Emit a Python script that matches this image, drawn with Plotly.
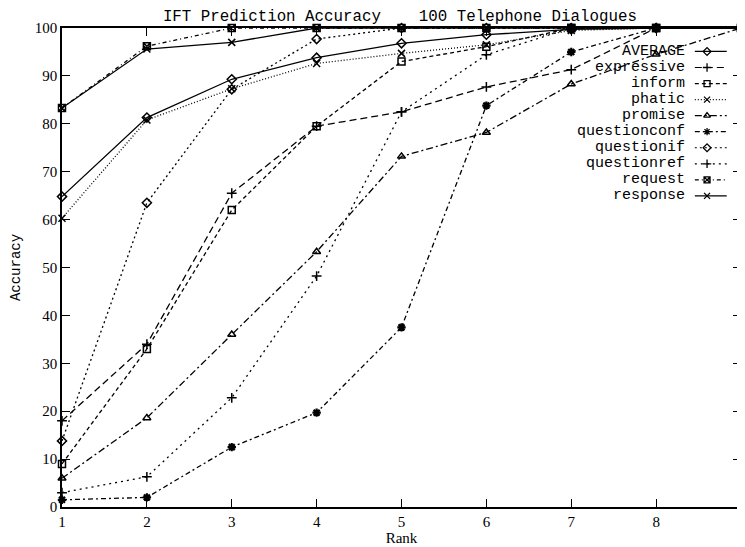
import plotly.graph_objects as go

ranks = [1, 2, 3, 4, 5, 6, 7, 8, 9]
series_names = ["AVERAGE", "expressive", "inform", "phatic", "promise",
                "questionconf", "questionif", "questionref", "request", "response"]
average = [64.8, 81.3, 89.3, 93.8, 96.8, 98.6, 99.7, 100, 100]
expressive = [18, 34, 65.5, 79.5, 82.5, 87.7, 91.3, 100, 100]
inform = [9, 33, 62, 79.5, 93, 96.1, 100, 100, 100]
phatic = [60.3, 80.8, 87.3, 92.6, 94.7, 96.5, 99.5, 100, 100]
promise = [6, 18.6, 36, 53.3, 73.2, 78.2, 88.3, 94.5, 100]
questionconf = [1.5, 2, 12.5, 19.7, 37.5, 83.8, 95, 100, 100]
questionif = [13.8, 63.5, 87.2, 97.7, 100, 100, 100, 100, 100]
questionref = [3, 6.3, 22.8, 48.2, 82.5, 94.4, 100, 100, 100]
request = [83.3, 96.2, 100, 100, 100, 100, 100, 100, 100]
response = [83.3, 95.6, 97, 100, 100, 100, 100, 100, 100]
x_tick_labels = ["1", "2", "3", "4", "5", "6", "7", "8", "9"]
y_tick_values = [0, 10, 20, 30, 40, 50, 60, 70, 80, 90, 100]

values = [average, expressive, inform, phatic, promise,
          questionconf, questionif, questionref, request, response]
# (dash, symbol, marker outline width)
styles = [
    ("solid", "diamond-open", 1.5),
    ("7px,4px", "cross-thin-open", 1.5),
    ("4px,3px", "square-open", 1.5),
    ("1px,2px", "x-thin-open", 1.5),
    ("7px,3px,2px,3px", "triangle-up-open", 1.5),
    ("5px,3px,2px,3px", "asterisk-open", 2.2),
    ("2px,3px", "diamond-open", 1.5),
    ("2px,4px", "cross-thin-open", 1.5),
    ("4px,3px,1px,3px", "square-x-open", 1.5),
    ("solid", "x-thin-open", 1.5),
]

MONO = "Liberation Mono"
SERIF = "Liberation Serif"

fig = go.Figure()
for name, vals, (dash, sym, mw) in zip(series_names, values, styles):
    fig.add_trace(go.Scatter(
        x=ranks, y=vals, name=name, mode="lines+markers",
        line=dict(color="black", width=1.3, dash=dash),
        marker=dict(symbol=sym, size=7, color="black",
                    line=dict(color="black", width=mw)),
        cliponaxis=False, showlegend=False,
    ))

# custom gnuplot-style key (text right-aligned, sample on the right)
key_top = 0.951
key_step = 0.0335
text_right = 0.9205
line_x0, line_x1, mark_x = 0.932, 0.979, 0.950
key_y = [key_top - i * key_step for i in range(len(series_names))]
for name, ky, (dash, sym, mw) in zip(series_names, key_y, styles):
    fig.add_annotation(x=text_right, y=ky, xref="paper", yref="paper",
                       text=name, showarrow=False, xanchor="right", yanchor="middle",
                       font=dict(family=MONO, size=15, color="black"))
    fig.add_shape(type="line", xref="paper", yref="paper",
                  x0=line_x0, x1=line_x1, y0=ky, y1=ky,
                  line=dict(color="black", width=1.2, dash=dash))
fig.add_trace(go.Scatter(
    x=[mark_x] * len(series_names), y=key_y, xaxis="x2", yaxis="y2",
    mode="markers", showlegend=False, hoverinfo="skip", cliponaxis=False,
    marker=dict(symbol=[s[1] for s in styles], size=6, color="black",
                line=dict(color="black", width=1.3)),
))

fig.update_layout(
    width=745, height=547,
    margin=dict(l=54, r=12, t=20, b=48),
    paper_bgcolor="white", plot_bgcolor="white",
    showlegend=False,
    title=dict(text="IFT Prediction Accuracy    100 Telephone Dialogues",
               x=0.526, xanchor="center", y=0.987, yanchor="middle",
               font=dict(family=MONO, size=15.8, color="black")),
    xaxis=dict(range=[1, 9], tickvals=ranks, ticktext=x_tick_labels,
               automargin=False,
               showgrid=False, zeroline=False, showline=True, linecolor="black",
               linewidth=1.5, mirror="ticks", ticks="inside", ticklen=8,
               tickcolor="black", tickwidth=1.3,
               tickfont=dict(family=SERIF, size=15, color="black"),
               title=dict(text="Rank", font=dict(family=SERIF, size=15, color="black"),
                          standoff=0)),
    yaxis=dict(range=[0, 100], tickvals=y_tick_values,
               automargin=False,
               showgrid=False, zeroline=False, showline=True, linecolor="black",
               linewidth=1.5, mirror="ticks", ticks="inside", ticklen=8,
               tickcolor="black", tickwidth=1.3,
               tickfont=dict(family=SERIF, size=15, color="black"),
               title=dict(text="Accuracy", font=dict(family=MONO, size=14, color="black"),
                          standoff=14)),
    xaxis2=dict(overlaying="x", range=[0, 1], visible=False),
    yaxis2=dict(overlaying="y", range=[0, 1], visible=False),
)

fig.write_html("out.html")
